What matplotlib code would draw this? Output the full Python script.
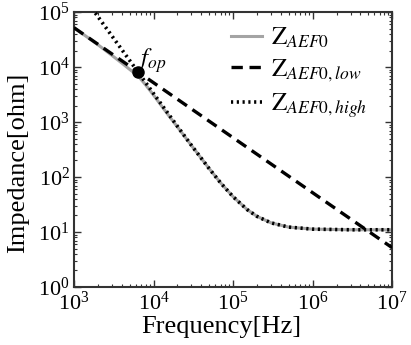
import matplotlib
matplotlib.use("Agg")
import matplotlib.pyplot as plt
from matplotlib.ticker import LogLocator, NullFormatter

plt.rcParams['mathtext.fontset'] = 'stix'
plt.rcParams['font.family'] = ['Liberation Serif', 'DejaVu Serif']

# Gray solid curve Z_AEF0
freq_aef0 = [1e3, 2e3, 3e3, 4e3, 5e3, 6.4e3, 8e3, 1e4, 1.5e4, 2e4, 3e4, 5e4, 7e4,
             1e5, 1.5e5, 2e5, 3e5, 5e5, 1e6, 3e6, 1e7]
z_aef0 = [52000, 25500, 16300, 11800, 9100, 6900, 4700, 3100, 1400, 815, 375, 143, 78,
          44, 25.7, 19.3, 14.7, 12.3, 11.3, 11.0, 11.0]

# Dashed low-frequency asymptote
freq_low = [1e3, 1e7]
z_low = [52000, 5.2]

# Dotted high-frequency approximation
freq_high = [1e3, 2e3, 4e3, 6.4e3, 1e4, 1.5e4, 2e4, 3e4, 5e4, 7e4,
             1e5, 1.5e5, 2e5, 3e5, 5e5, 1e6, 3e6, 1e7]
z_high = [330000, 82600, 20700, 8100, 3310, 1480, 836, 377, 143, 78,
          44, 25.7, 19.3, 14.7, 12.3, 11.3, 11.0, 11.0]

# Operating point
f_op = [6400]
z_op = [8100]

fig = plt.figure(figsize=(4.11, 3.45), dpi=100)
ax = fig.add_axes([0.180, 0.168, 0.774, 0.797])

ax.plot(freq_aef0, z_aef0, color='#a4a4a4', lw=2.2, label=r'$\mathrm{Z}_{AEF0}$', zorder=2)
ax.plot(freq_low, z_low, color='black', lw=2.4, ls=(0, (3.4, 2.0)), label=r'$\mathrm{Z}_{AEF0,low}$', zorder=3)
ax.plot(freq_high, z_high, color='black', lw=2.6, ls=(0, (0.6, 1.0)), label=r'$\mathrm{Z}_{AEF0,high}$', zorder=4)
ax.plot(f_op, z_op, 'o', color='black', ms=8, zorder=5)
ax.text(6200, 10600, r'$f_{op}$', fontsize=18, ha='left', va='baseline')

ax.set_xscale('log')
ax.set_yscale('log')
ax.set_xlim(1e3, 1e7)
ax.set_ylim(1e0, 1e5)

ax.xaxis.set_major_locator(LogLocator(base=10, numticks=10))
ax.yaxis.set_major_locator(LogLocator(base=10, numticks=10))
ax.xaxis.set_minor_locator(LogLocator(base=10, subs=range(2, 10), numticks=20))
ax.yaxis.set_minor_locator(LogLocator(base=10, subs=range(2, 10), numticks=20))
ax.xaxis.set_minor_formatter(NullFormatter())
ax.yaxis.set_minor_formatter(NullFormatter())

ax.tick_params(which='both', direction='in', top=True, right=True, colors='#333333')
ax.tick_params(which='major', length=5, width=1.0, labelsize=16, labelcolor='black', pad=3)
ax.tick_params(which='minor', length=2.5, width=0.8)
for s in ax.spines.values():
    s.set_linewidth(1.5)
    s.set_color('#333333')

ax.set_xlabel('Frequency[Hz]', fontsize=19)
ax.xaxis.set_label_coords(0.464, -0.105)
ax.set_ylabel('Impedance[ohm]', fontsize=19)
ax.yaxis.set_label_coords(-0.14, 0.45)

leg = ax.legend(loc='upper left', bbox_to_anchor=(0.45, 1.0), frameon=False, fontsize=18,
                handlelength=1.25, handletextpad=0.35, labelspacing=0.3, borderaxespad=0.15)

fig.savefig('out.png', dpi=100)
